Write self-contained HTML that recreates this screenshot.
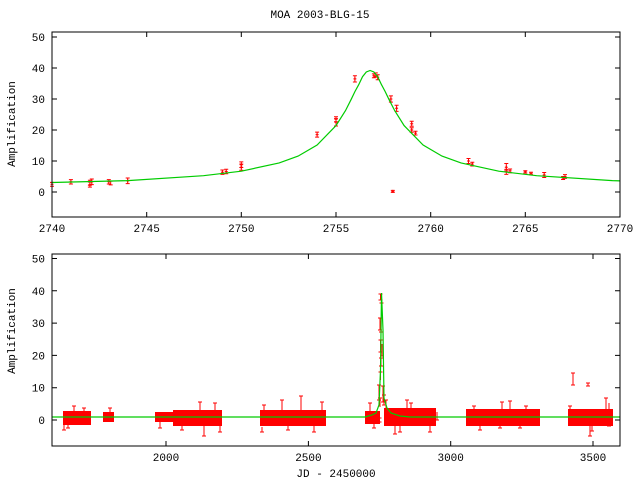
<!DOCTYPE html>
<html><head><meta charset="utf-8"><style>
html,body{margin:0;padding:0;background:#fff;width:640px;height:480px;overflow:hidden}
svg text{font-family:"Liberation Mono",monospace;font-size:11px;fill:#000}
</style></head><body>
<svg width="640" height="480" xmlns="http://www.w3.org/2000/svg">
<defs>
<path id="m" d="M-1.5 0h3M0 -1.5v3" stroke="#f00" fill="none"/>
</defs>
<text x="320" y="18" text-anchor="middle">MOA 2003-BLG-15</text>
<text transform="translate(15,124) rotate(-90)" text-anchor="middle">Amplification</text>
<text transform="translate(15,331) rotate(-90)" text-anchor="middle">Amplification</text>

<!-- TOP PANEL data -->
<g stroke="#f00" fill="none" stroke-width="1">
<path d="M52 182.4V186.2M50 182.4h4M50 186.2h4
M70.9 179.6V184M68.9 179.6h4M68.9 184h4
M89.9 182.1V187.1M87.9 182.1h4M87.9 187.1h4
M89.9 180.2V185.2M87.9 180.2h4M87.9 185.2h4
M91.8 179V184.6M89.8 179h4M89.8 184.6h4
M108.8 179.6V184M106.8 179.6h4M106.8 184h4
M110.7 181.1V184.9M108.7 181.1h4M108.7 184.9h4
M127.7 178V183.6M125.7 178h4M125.7 183.6h4
M222.4 170V174.4M220.4 170h4M220.4 174.4h4
M226.2 169.3V173.7M224.2 169.3h4M224.2 173.7h4
M241.3 164.1V170.3M239.3 164.1h4M239.3 170.3h4
M241.3 161.9V167.5M239.3 161.9h4M239.3 167.5h4
M317.1 132.1V137.1M315.1 132.1h4M315.1 137.1h4
M336 118.6V126M334 118.6h4M334 126h4
M336 116.7V121.7M334 116.7h4M334 121.7h4
M354.9 75.8V82M352.9 75.8h4M352.9 82h4
M373.9 73.9V77.7M371.9 73.9h4M371.9 77.7h4
M375.8 72.9V76.7M373.8 72.9h4M373.8 76.7h4
M377.7 74.8V79.8M375.7 74.8h4M375.7 79.8h4
M390.9 95.9V102.1M388.9 95.9h4M388.9 102.1h4
M396.6 105.2V111.4M394.6 105.2h4M394.6 111.4h4
M392.8 190.4V192.4M390.8 190.4h4M390.8 192.4h4
M411.7 121.3V126.3M409.7 121.3h4M409.7 126.3h4
M411.7 127.8V132.2M409.7 127.8h4M409.7 132.2h4
M415.5 131.2V135M413.5 131.2h4M413.5 135h4
M468.5 158.5V163.5M466.5 158.5h4M466.5 163.5h4
M472.3 162.2V166M470.3 162.2h4M470.3 166h4
M506.3 163.5V170.9M504.3 163.5h4M504.3 170.9h4
M506.3 169.4V174.4M504.3 169.4h4M504.3 174.4h4
M510.1 169V172.8M508.1 169h4M508.1 172.8h4
M525.3 170.7V173.1M523.3 170.7h4M523.3 173.1h4
M531 172.2V174.6M529 172.2h4M529 174.6h4
M544.2 172.5V177.5M542.2 172.5h4M542.2 177.5h4
M563.1 176.5V179.5M561.1 176.5h4M561.1 179.5h4
M565 174.6V178.4M563 174.6h4M563 178.4h4"/>
</g>
<g>
<use href="#m" x="52" y="184.3"/><use href="#m" x="70.9" y="181.8"/><use href="#m" x="89.9" y="184.6"/><use href="#m" x="91.8" y="181.8"/><use href="#m" x="108.8" y="181.8"/><use href="#m" x="127.7" y="180.8"/><use href="#m" x="222.4" y="172.2"/><use href="#m" x="226.2" y="171.5"/><use href="#m" x="241.3" y="167.2"/><use href="#m" x="241.3" y="164.7"/><use href="#m" x="317.1" y="134.6"/><use href="#m" x="336" y="122.3"/><use href="#m" x="336" y="119.2"/><use href="#m" x="354.9" y="78.9"/><use href="#m" x="373.9" y="75.8"/><use href="#m" x="377.7" y="77.3"/><use href="#m" x="390.9" y="99"/><use href="#m" x="396.6" y="108.3"/><use href="#m" x="392.8" y="191.4"/><use href="#m" x="411.7" y="123.8"/><use href="#m" x="411.7" y="130"/><use href="#m" x="415.5" y="133.1"/><use href="#m" x="468.5" y="161"/><use href="#m" x="472.3" y="164.1"/><use href="#m" x="506.3" y="167.2"/><use href="#m" x="510.1" y="170.9"/><use href="#m" x="525.3" y="171.9"/><use href="#m" x="531" y="173.4"/><use href="#m" x="544.2" y="175"/><use href="#m" x="563.1" y="178"/><use href="#m" x="565" y="176.5"/>
</g>
<path d="M52 182.5L127.7 180.6L203.5 175.7L241.3 171.2L279.2 162.9L298.1 156.1L317.1 145L336 125.6L345.5 110.6L351.2 99.3L354.9 91.6L358.7 84.7L362.5 76.7L366.3 72L370.1 70.5L373.9 72L377.7 76.7L381.5 84.7L385.2 91.6L388.9 99.3L394.7 110.6L404.1 125.6L423.1 145L442 156.1L461 162.9L498.8 171.2L536.7 175.7L612.4 180.6L620 180.9" stroke="#0c0" stroke-width="1.2" fill="none"/>
<rect x="52" y="32" width="568" height="185" fill="none" stroke="#000"/>
<path d="M52 192h5M52 161h5M52 130h5M52 99h5M52 68h5M52 37h5M620 192h-5M620 161h-5M620 130h-5M620 99h-5M620 68h-5M620 37h-5
M146.7 217v-5M241.3 217v-5M336 217v-5M430.7 217v-5M525.3 217v-5M146.7 32v5M241.3 32v5M336 32v5M430.7 32v5M525.3 32v5" stroke="#000"/>
<g text-anchor="end">
<text x="45" y="196">0</text><text x="45" y="165">10</text><text x="45" y="134">20</text><text x="45" y="103">30</text><text x="45" y="72">40</text><text x="45" y="41">50</text>
</g>
<g text-anchor="middle">
<text x="52" y="232">2740</text><text x="146.7" y="232">2745</text><text x="241.3" y="232">2750</text><text x="336" y="232">2755</text><text x="430.7" y="232">2760</text><text x="525.3" y="232">2765</text><text x="620" y="232">2770</text>
</g>

<!-- BOTTOM PANEL -->
<g fill="#f00">
<rect x="63" y="411" width="28" height="14"/>
<rect x="103" y="412" width="11" height="10"/>
<rect x="155" y="412" width="18" height="10"/>
<rect x="173" y="410" width="49" height="16"/>
<rect x="260" y="410" width="66" height="16"/>
<rect x="365" y="411" width="15" height="13"/>
<rect x="384" y="408" width="52" height="18"/>
<rect x="466" y="409" width="74" height="17"/>
<rect x="568" y="409" width="45" height="17"/>
</g>
<g stroke="#f00" fill="none">
<path d="M64 412V430M62 430h4M74 406V416M72 406h4M84 408V416M82 408h4M68 424V428M66 428h4
M110 408V412M108 408h4M160 418V428M158 428h4M182 422V430M180 430h4M200 402V412M198 402h4M204 418V436M202 436h4M215 403V412M213 403h4M220 420V432M218 432h4
M264 405V414M262 405h4M262 427V432M260 432h4M282 400V410M280 400h4M288 421V430M286 430h4M301 396V410M299 396h4M314 424V432M312 432h4M322 402V410M320 402h4
M370 403V412M368 403h4M374 422V428M372 428h4M395 423V434M393 434h4M400 424V432M398 432h4M407 400V410M405 400h4M411 403V408M409 403h4M430 424V432M428 432h4M437 412V420M435 420h4
M474 406V410M472 406h4M480 424V430M478 430h4M500 424V428M498 428h4M502 402V410M500 402h4M510 401V410M508 401h4M520 424V428M518 428h4M526 406V410M524 406h4
M570 406V425M568 406h4M590 424V436M588 436h4M592 421V431M590 431h4M606 398V410M604 398h4M609 403V426M607 426h4
M573 373V385M571 373h4M571 385h4M588 383V386M586 383h4M586 386h4
M380.5 294V300M378.5 294h4M378.5 300h4M381.5 297V303M379.5 303h4M380 318V330M378 318h4M378 330h4M381 321V332M379 332h4
M380.5 340V352M378.5 340h4M378.5 352h4M382 344V356M380 356h4M381 358V366M379 358h4M379 366h4M380.5 372V380M378.5 372h4
M379 385V400M377 385h4M377 400h4M383 386V402M381 386h4M381 402h4M380 398V407M378 398h4M384 395V405M382 395h4M382 405h4M386 400V410M384 400h4M379.5 418V422M377.5 418h4M377.5 422h4"/>
</g>
<path d="M52 417H365L372 415L376 413L379 405L380.5 370L381.5 293L383 330L384 398L387 408L391 413L400 416L410 417H620" stroke="#0c0" stroke-width="1.2" fill="none"/>
<rect x="52" y="254" width="568" height="192" fill="none" stroke="#000"/>
<path d="M52 420h5M52 387.7h5M52 355.4h5M52 323.1h5M52 290.8h5M52 258.5h5M620 420h-5M620 387.7h-5M620 355.4h-5M620 323.1h-5M620 290.8h-5M620 258.5h-5
M166 446v-5M308.4 446v-5M450.7 446v-5M593 446v-5M166 254v5M308.4 254v5M450.7 254v5M593 254v5" stroke="#000"/>
<g text-anchor="end">
<text x="45" y="424">0</text><text x="45" y="391.7">10</text><text x="45" y="359.4">20</text><text x="45" y="327.1">30</text><text x="45" y="294.8">40</text><text x="45" y="262.5">50</text>
</g>
<g text-anchor="middle">
<text x="166" y="461">2000</text><text x="308.4" y="461">2500</text><text x="450.7" y="461">3000</text><text x="593" y="461">3500</text>
<text x="336" y="477">JD - 2450000</text>
</g>
</svg>
</body></html>
